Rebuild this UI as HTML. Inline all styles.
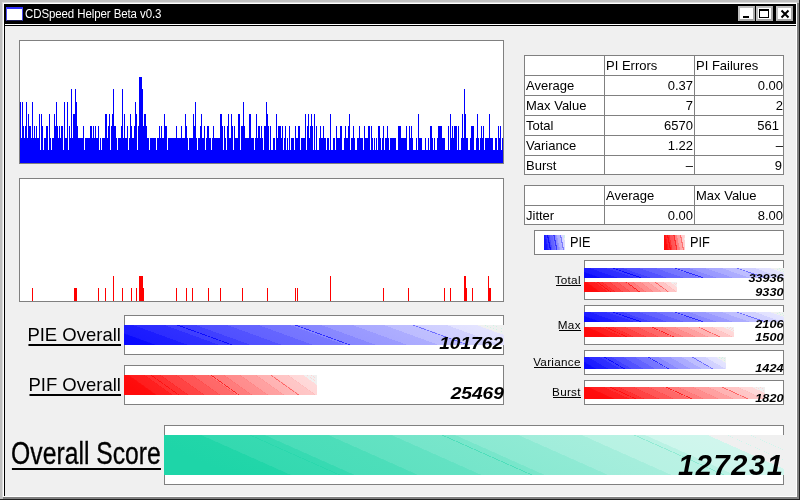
<!DOCTYPE html>
<html><head><meta charset="utf-8"><title>CDSpeed Helper Beta v0.3</title>
<style>
html,body{margin:0;padding:0;}
body{width:800px;height:500px;overflow:hidden;background:#c0c0c0;position:relative;font-family:"Liberation Sans",sans-serif;color:#000;}
.abs{position:absolute;}
#win{will-change:transform;position:absolute;left:0;top:0;width:800px;height:500px;overflow:hidden;}
.box{position:absolute;background:#fff;border:1px solid #808080;box-sizing:border-box;}
.lbl{position:absolute;text-decoration:none;white-space:nowrap;text-align:right;}
.num{position:absolute;font-weight:bold;font-style:italic;white-space:nowrap;text-align:right;transform-origin:100% 100%;}
table{position:absolute;border-collapse:collapse;table-layout:fixed;font-size:13px;}
td{border:1px solid #808080;height:19px;padding:0 1px 0 1px;line-height:19px;white-space:nowrap;overflow:visible;background:#fff;}
td.r{text-align:right;}
tr.last td{height:17px;line-height:17px;padding-top:1px;}
</style></head><body>
<div id="win">
<!-- frame -->
<div class="abs" style="left:0;top:0;width:800px;height:500px;background:#c0c0c0"></div>
<div class="abs" style="left:0;top:499px;width:800px;height:1px;background:#202020"></div>
<div class="abs" style="left:799px;top:0;width:1px;height:500px;background:#202020"></div>
<div class="abs" style="left:3px;top:497px;width:796px;height:2px;background:#808080"></div>
<div class="abs" style="left:797px;top:3px;width:2px;height:496px;background:#808080"></div>
<div class="abs" style="left:2px;top:2px;width:795px;height:495px;background:#dcdcdc"></div>
<div class="abs" style="left:3px;top:3px;width:794px;height:494px;background:#fff"></div>
<div class="abs" style="left:4px;top:4px;width:792px;height:492px;background:#f0f0f0"></div>
<!-- title bar -->
<div class="abs" style="left:4px;top:4px;width:792px;height:20px;background:#000"></div>
<div class="abs" style="left:4px;top:24px;width:792px;height:1px;background:#fff"></div>
<div class="abs" style="left:4px;top:25px;width:792px;height:1px;background:#000"></div>
<div class="abs" style="left:4px;top:4px;width:1px;height:492px;background:#000"></div>
<!-- icon -->
<div class="abs" style="left:6px;top:7px;width:17px;height:14px;background:#fff;box-sizing:border-box;border:1px solid #4a4af0;border-top:2px solid #3030ff;border-bottom:1px solid #20205a"></div>
<div id="title" class="abs" style="left:25px;top:6px;font-size:11.5px;line-height:16px;color:#fff;white-space:nowrap;letter-spacing:-0.1px;transform:scale(1,1.12);transform-origin:0 12px;">CDSpeed Helper Beta v0.3</div>
<!-- buttons -->
<div class="abs" style="left:738px;top:6px;width:17px;height:15px;background:#fff;box-sizing:border-box;border:2px solid #c0c0c0;border-right-color:#a8a8a8;border-bottom-color:#a8a8a8"></div>
<div class="abs" style="left:743px;top:16px;width:6px;height:2px;background:#000"></div>
<div class="abs" style="left:756px;top:6px;width:17px;height:15px;background:#fff;box-sizing:border-box;border:2px solid #c0c0c0;border-right-color:#a8a8a8;border-bottom-color:#a8a8a8"></div>
<div class="abs" style="left:759px;top:9px;width:10px;height:9px;box-sizing:border-box;border:1px solid #000;border-top:2px solid #000;background:#fff"></div>
<div class="abs" style="left:776px;top:6px;width:17px;height:15px;background:#fff;box-sizing:border-box;border:2px solid #c0c0c0;border-right-color:#a8a8a8;border-bottom-color:#a8a8a8"></div>
<svg class="abs" style="left:776px;top:6px" width="17" height="15"><path d="M5.5 4.5L12.5 11.5M12.5 4.5L5.5 11.5" stroke="#000" stroke-width="2" fill="none"/></svg>

<!-- charts -->
<div class="box" style="left:19px;top:40px;width:485px;height:124px"></div>
<svg class="abs" style="left:19px;top:40px" width="485" height="124" shape-rendering="crispEdges"><path fill="#0000ff" d="M1 62h1v61h-1zM2 98h1v25h-1zM3 62h1v61h-1zM4 86h1v37h-1zM5 98h1v25h-1zM6 86h1v37h-1zM7 62h1v61h-1zM8 98h1v25h-1zM9 74h1v49h-1zM10 86h2v37h-2zM12 98h1v25h-1zM13 62h1v61h-1zM14 98h1v25h-1zM15 86h1v37h-1zM16 98h1v25h-1zM17 86h1v37h-1zM18 98h2v25h-2zM20 74h1v49h-1zM21 110h1v13h-1zM22 74h1v49h-1zM23 86h1v37h-1zM24 110h1v13h-1zM25 98h2v25h-2zM27 86h2v37h-2zM29 110h1v13h-1zM30 74h1v49h-1zM31 98h1v25h-1zM32 110h1v13h-1zM33 98h2v25h-2zM35 74h1v49h-1zM36 86h1v37h-1zM37 62h1v61h-1zM38 86h1v37h-1zM39 98h1v25h-1zM40 86h1v37h-1zM41 98h1v25h-1zM42 86h2v37h-2zM44 110h1v13h-1zM45 62h1v61h-1zM46 98h2v25h-2zM48 62h1v61h-1zM49 110h1v13h-1zM50 86h1v37h-1zM51 98h1v25h-1zM52 49h1v74h-1zM53 98h1v25h-1zM54 74h2v49h-2zM56 49h1v74h-1zM57 62h1v61h-1zM58 86h1v37h-1zM59 98h5v25h-5zM64 86h1v37h-1zM65 110h1v13h-1zM66 98h5v25h-5zM71 86h2v37h-2zM73 98h1v25h-1zM74 86h1v37h-1zM75 98h1v25h-1zM76 86h1v37h-1zM77 98h2v25h-2zM79 86h1v37h-1zM80 110h1v13h-1zM81 98h1v25h-1zM82 110h1v13h-1zM83 98h3v25h-3zM86 74h2v49h-2zM88 98h1v25h-1zM89 86h1v37h-1zM90 74h1v49h-1zM91 110h1v13h-1zM92 86h1v37h-1zM93 74h1v49h-1zM94 49h1v74h-1zM95 86h2v37h-2zM97 98h1v25h-1zM98 110h1v13h-1zM99 98h3v25h-3zM102 86h1v37h-1zM103 49h1v74h-1zM104 98h1v25h-1zM105 74h1v49h-1zM106 98h2v25h-2zM108 86h1v37h-1zM109 110h1v13h-1zM110 98h1v25h-1zM111 74h1v49h-1zM112 86h1v37h-1zM113 98h2v25h-2zM115 86h1v37h-1zM116 62h1v61h-1zM117 74h1v49h-1zM118 110h1v13h-1zM119 86h1v37h-1zM120 37h3v86h-3zM123 49h1v74h-1zM124 86h1v37h-1zM125 74h2v49h-2zM127 86h1v37h-1zM128 98h2v25h-2zM130 110h1v13h-1zM131 98h6v25h-6zM137 110h1v13h-1zM138 98h2v25h-2zM140 86h1v37h-1zM141 98h1v25h-1zM142 86h1v37h-1zM143 98h2v25h-2zM145 74h1v49h-1zM146 86h2v37h-2zM148 110h1v13h-1zM149 98h8v25h-8zM157 86h1v37h-1zM158 98h4v25h-4zM162 86h1v37h-1zM163 98h3v25h-3zM166 74h1v49h-1zM167 86h1v37h-1zM168 98h1v25h-1zM169 110h1v13h-1zM170 98h4v25h-4zM174 74h1v49h-1zM175 86h1v37h-1zM176 62h1v61h-1zM177 98h1v25h-1zM178 110h1v13h-1zM179 98h2v25h-2zM181 86h1v37h-1zM182 74h1v49h-1zM183 98h2v25h-2zM185 86h1v37h-1zM186 110h1v13h-1zM187 98h1v25h-1zM188 86h2v37h-2zM190 98h2v25h-2zM192 110h1v13h-1zM193 98h1v25h-1zM194 86h1v37h-1zM195 98h6v25h-6zM201 74h2v49h-2zM203 86h1v37h-1zM204 110h1v13h-1zM205 86h1v37h-1zM206 98h1v25h-1zM207 110h1v13h-1zM208 86h1v37h-1zM209 74h1v49h-1zM210 98h2v25h-2zM212 74h1v49h-1zM213 86h1v37h-1zM214 110h1v13h-1zM215 86h1v37h-1zM216 98h3v25h-3zM219 74h2v49h-2zM221 110h1v13h-1zM222 86h2v37h-2zM224 62h1v61h-1zM225 86h1v37h-1zM226 98h4v25h-4zM230 74h2v49h-2zM232 98h3v25h-3zM235 110h1v13h-1zM236 98h1v25h-1zM237 74h1v49h-1zM238 98h1v25h-1zM239 86h2v37h-2zM241 98h1v25h-1zM242 86h1v37h-1zM243 98h1v25h-1zM244 110h1v13h-1zM245 86h2v37h-2zM247 62h1v61h-1zM248 74h1v49h-1zM249 86h1v37h-1zM250 110h1v13h-1zM251 86h1v37h-1zM252 110h2v13h-2zM254 98h2v25h-2zM256 110h1v13h-1zM257 74h1v49h-1zM258 98h1v25h-1zM259 86h3v37h-3zM262 98h1v25h-1zM263 86h1v37h-1zM264 110h1v13h-1zM265 98h1v25h-1zM266 86h1v37h-1zM267 110h1v13h-1zM268 98h1v25h-1zM269 110h1v13h-1zM270 86h1v37h-1zM271 110h1v13h-1zM272 98h3v25h-3zM275 110h1v13h-1zM276 86h1v37h-1zM277 98h2v25h-2zM279 86h2v37h-2zM281 110h1v13h-1zM282 98h4v25h-4zM286 74h1v49h-1zM287 110h1v13h-1zM288 86h1v37h-1zM289 74h1v49h-1zM290 98h1v25h-1zM291 86h1v37h-1zM292 74h1v49h-1zM293 86h1v37h-1zM294 110h1v13h-1zM295 74h1v49h-1zM296 110h1v13h-1zM297 86h1v37h-1zM298 110h2v13h-2zM300 98h1v25h-1zM301 86h1v37h-1zM302 98h2v25h-2zM304 86h1v37h-1zM305 98h2v25h-2zM307 110h1v13h-1zM308 98h2v25h-2zM310 110h1v13h-1zM311 74h1v49h-1zM312 110h2v13h-2zM314 98h2v25h-2zM316 110h1v13h-1zM317 86h1v37h-1zM318 98h3v25h-3zM321 86h2v37h-2zM323 110h2v13h-2zM325 98h1v25h-1zM326 86h1v37h-1zM327 98h2v25h-2zM329 86h1v37h-1zM330 74h1v49h-1zM331 110h1v13h-1zM332 98h2v25h-2zM334 86h1v37h-1zM335 98h1v25h-1zM336 110h2v13h-2zM338 98h2v25h-2zM340 86h1v37h-1zM341 98h3v25h-3zM344 110h1v13h-1zM345 86h1v37h-1zM346 98h3v25h-3zM349 86h2v37h-2zM351 110h1v13h-1zM352 86h1v37h-1zM353 98h1v25h-1zM354 110h1v13h-1zM355 98h1v25h-1zM356 110h1v13h-1zM357 98h1v25h-1zM358 110h1v13h-1zM359 86h2v37h-2zM361 98h1v25h-1zM362 110h1v13h-1zM363 98h1v25h-1zM364 86h1v37h-1zM365 110h1v13h-1zM366 98h2v25h-2zM368 86h1v37h-1zM369 98h1v25h-1zM370 110h1v13h-1zM371 98h6v25h-6zM377 110h2v13h-2zM379 86h3v37h-3zM382 98h5v25h-5zM387 86h1v37h-1zM388 110h2v13h-2zM390 86h1v37h-1zM391 98h1v25h-1zM392 86h1v37h-1zM393 98h1v25h-1zM394 110h3v13h-3zM397 98h1v25h-1zM398 110h1v13h-1zM399 74h1v49h-1zM400 98h3v25h-3zM403 110h3v13h-3zM406 98h1v25h-1zM407 110h2v13h-2zM409 98h1v25h-1zM410 110h1v13h-1zM411 86h2v37h-2zM413 98h1v25h-1zM414 110h1v13h-1zM415 98h1v25h-1zM416 110h2v13h-2zM418 98h1v25h-1zM419 86h4v37h-4zM423 98h3v25h-3zM426 110h3v13h-3zM429 86h1v37h-1zM430 110h1v13h-1zM431 74h1v49h-1zM432 98h1v25h-1zM433 86h1v37h-1zM434 98h1v25h-1zM435 86h3v37h-3zM438 110h1v13h-1zM439 86h1v37h-1zM440 110h2v13h-2zM442 98h1v25h-1zM443 74h1v49h-1zM444 98h1v25h-1zM445 49h1v74h-1zM446 74h1v49h-1zM447 98h2v25h-2zM449 110h2v13h-2zM451 98h1v25h-1zM452 86h3v37h-3zM455 110h2v13h-2zM457 98h1v25h-1zM458 74h1v49h-1zM459 98h1v25h-1zM460 110h1v13h-1zM461 98h1v25h-1zM462 86h1v37h-1zM463 98h1v25h-1zM464 86h1v37h-1zM465 110h1v13h-1zM466 98h4v25h-4zM470 74h1v49h-1zM471 98h3v25h-3zM474 110h2v13h-2zM476 98h2v25h-2zM478 110h1v13h-1zM479 86h1v37h-1zM480 98h1v25h-1zM481 86h1v37h-1zM482 110h1v13h-1zM483 98h1v25h-1z"/></svg>
<div class="box" style="left:19px;top:178px;width:485px;height:124px"></div>
<svg class="abs" style="left:19px;top:178px" width="485" height="124" shape-rendering="crispEdges"><path fill="#ff0000" d="M13 110h1v13h-1zM55 110h3v13h-3zM79 110h1v13h-1zM86 110h1v13h-1zM94 98h1v25h-1zM103 110h1v13h-1zM112 110h1v13h-1zM117 110h1v13h-1zM120 98h4v25h-4zM124 110h1v13h-1zM157 110h1v13h-1zM167 110h1v13h-1zM173 110h1v13h-1zM189 110h1v13h-1zM201 110h1v13h-1zM223 110h1v13h-1zM248 110h1v13h-1zM276 110h1v13h-1zM278 110h1v13h-1zM311 98h1v25h-1zM364 110h1v13h-1zM389 110h1v13h-1zM425 110h1v13h-1zM431 110h1v13h-1zM445 98h2v25h-2zM447 110h1v13h-1zM453 110h1v13h-1zM469 98h1v25h-1zM470 110h2v13h-2z"/></svg>

<!-- tables -->
<table style="left:524px;top:55px;width:260px">
<colgroup><col style="width:80px"><col style="width:90px"><col style="width:89px"></colgroup>
<tr><td></td><td>PI Errors</td><td>PI Failures</td></tr>
<tr><td>Average</td><td class="r">0.37</td><td class="r" style="padding-right:0">0.00</td></tr>
<tr><td>Max Value</td><td class="r">7</td><td class="r" style="padding-right:0">2</td></tr>
<tr><td>Total</td><td class="r">6570</td><td class="r" style="padding-right:4px">561</td></tr>
<tr><td>Variance</td><td class="r">1.22</td><td class="r" style="padding-right:0">&#8211;</td></tr>
<tr class="last"><td>Burst</td><td class="r">&#8211;</td><td class="r" style="padding-right:1px">9</td></tr>
</table>
<table style="left:524px;top:185px;width:260px">
<colgroup><col style="width:80px"><col style="width:90px"><col style="width:89px"></colgroup>
<tr><td></td><td>Average</td><td>Max Value</td></tr>
<tr class="last"><td>Jitter</td><td class="r">0.00</td><td class="r" style="padding-right:0">8.00</td></tr>
</table>

<!-- legend -->
<div class="box" style="left:534px;top:230px;width:250px;height:25px"></div>
<svg class="abs" style="left:544px;top:235px" width="21" height="15"><defs><linearGradient id="g10" gradientUnits="userSpaceOnUse" x1="0.00" y1="15.00" x2="23.09" y2="10.31"><stop offset="0.0000" stop-color="rgb(16,16,255)"/><stop offset="0.1561" stop-color="rgb(23,23,255)"/><stop offset="0.1561" stop-color="rgb(36,36,255)"/><stop offset="0.1977" stop-color="rgb(36,36,255)"/><stop offset="0.1977" stop-color="rgb(56,56,255)"/><stop offset="0.3122" stop-color="rgb(62,62,255)"/><stop offset="0.3122" stop-color="rgb(75,75,255)"/><stop offset="0.3538" stop-color="rgb(75,75,255)"/><stop offset="0.3538" stop-color="rgb(95,95,255)"/><stop offset="0.4683" stop-color="rgb(101,101,255)"/><stop offset="0.4683" stop-color="rgb(114,114,255)"/><stop offset="0.5099" stop-color="rgb(114,114,255)"/><stop offset="0.5099" stop-color="rgb(134,134,255)"/><stop offset="0.6245" stop-color="rgb(140,140,255)"/><stop offset="0.6245" stop-color="rgb(153,153,255)"/><stop offset="0.6660" stop-color="rgb(153,153,255)"/><stop offset="0.6660" stop-color="rgb(173,173,255)"/><stop offset="0.7806" stop-color="rgb(180,180,255)"/><stop offset="0.7806" stop-color="rgb(192,192,255)"/><stop offset="0.8222" stop-color="rgb(192,192,255)"/><stop offset="0.8222" stop-color="rgb(212,212,255)"/><stop offset="0.9367" stop-color="rgb(219,219,255)"/><stop offset="0.9367" stop-color="rgb(240,240,240)"/><stop offset="0.9525" stop-color="rgb(240,240,240)"/><stop offset="0.9525" stop-color="rgb(205,244,228)"/><stop offset="0.9858" stop-color="rgb(205,244,228)"/><stop offset="0.9858" stop-color="rgb(240,240,240)"/><stop offset="0.9715" stop-color="rgb(240,240,240)"/><stop offset="0.9715" stop-color="rgb(205,244,228)"/><stop offset="1.0000" stop-color="rgb(205,244,228)"/><stop offset="1.0000" stop-color="rgb(240,240,240)"/><stop offset="1.0000" stop-color="rgb(240,240,240)"/></linearGradient></defs><rect width="21" height="15" fill="url(#g10)"/><polygon shape-rendering="crispEdges" points="2.9,0 4.1,0 7.1,15 5.9,15" fill="rgb(0,0,255)" fill-opacity="0.70"/><polygon shape-rendering="crispEdges" points="9.4,0 10.6,0 13.6,15 12.4,15" fill="rgb(23,23,255)" fill-opacity="0.70"/><polygon shape-rendering="crispEdges" points="15.9,0 17.1,0 20.1,15 18.9,15" fill="rgb(91,91,255)" fill-opacity="0.70"/></svg><svg class="abs" style="left:664px;top:235px" width="21" height="15"><defs><linearGradient id="g11" gradientUnits="userSpaceOnUse" x1="0.00" y1="15.00" x2="23.09" y2="10.31"><stop offset="0.0000" stop-color="rgb(255,10,10)"/><stop offset="0.1561" stop-color="rgb(255,10,10)"/><stop offset="0.1561" stop-color="rgb(255,24,24)"/><stop offset="0.1977" stop-color="rgb(255,24,24)"/><stop offset="0.1977" stop-color="rgb(255,41,41)"/><stop offset="0.3122" stop-color="rgb(255,48,48)"/><stop offset="0.3122" stop-color="rgb(255,50,50)"/><stop offset="0.3538" stop-color="rgb(255,50,50)"/><stop offset="0.3538" stop-color="rgb(255,81,81)"/><stop offset="0.4683" stop-color="rgb(255,88,88)"/><stop offset="0.4683" stop-color="rgb(255,91,91)"/><stop offset="0.5099" stop-color="rgb(255,91,91)"/><stop offset="0.5099" stop-color="rgb(255,122,122)"/><stop offset="0.6245" stop-color="rgb(255,128,128)"/><stop offset="0.6245" stop-color="rgb(255,131,131)"/><stop offset="0.6660" stop-color="rgb(255,131,131)"/><stop offset="0.6660" stop-color="rgb(255,162,162)"/><stop offset="0.7806" stop-color="rgb(255,168,168)"/><stop offset="0.7806" stop-color="rgb(255,171,171)"/><stop offset="0.8222" stop-color="rgb(255,171,171)"/><stop offset="0.8222" stop-color="rgb(255,202,202)"/><stop offset="0.9367" stop-color="rgb(255,209,209)"/><stop offset="0.9367" stop-color="rgb(240,240,240)"/><stop offset="0.9525" stop-color="rgb(240,240,240)"/><stop offset="0.9525" stop-color="rgb(255,213,213)"/><stop offset="0.9858" stop-color="rgb(255,213,213)"/><stop offset="0.9858" stop-color="rgb(240,240,240)"/><stop offset="0.9715" stop-color="rgb(240,240,240)"/><stop offset="0.9715" stop-color="rgb(255,213,213)"/><stop offset="1.0000" stop-color="rgb(255,213,213)"/><stop offset="1.0000" stop-color="rgb(240,240,240)"/><stop offset="1.0000" stop-color="rgb(240,240,240)"/></linearGradient></defs><rect width="21" height="15" fill="url(#g11)"/><polygon shape-rendering="crispEdges" points="2.9,0 4.1,0 7.1,15 5.9,15" fill="rgb(255,10,10)" fill-opacity="0.70"/><polygon shape-rendering="crispEdges" points="9.4,0 10.6,0 13.6,15 12.4,15" fill="rgb(255,14,14)" fill-opacity="0.70"/><polygon shape-rendering="crispEdges" points="15.9,0 17.1,0 20.1,15 18.9,15" fill="rgb(255,84,84)" fill-opacity="0.70"/></svg>
<div class="abs" style="left:569.5px;top:233.5px;font-size:14.7px;line-height:16px;transform:scaleX(0.87);transform-origin:0 0">PIE</div>
<div class="abs" style="left:689.5px;top:233.5px;font-size:14.7px;line-height:16px;transform:scaleX(0.87);transform-origin:0 0">PIF</div>

<div class="box" style="left:124px;top:315px;width:380px;height:40px"></div>
<svg class="abs" style="left:124px;top:325px" width="380" height="20"><defs><linearGradient id="g1" gradientUnits="userSpaceOnUse" x1="0.00" y1="20.00" x2="50.65" y2="-119.55"><stop offset="0.0000" stop-color="rgb(8,8,255)"/><stop offset="0.0721" stop-color="rgb(10,10,255)"/><stop offset="0.0721" stop-color="rgb(17,17,255)"/><stop offset="0.0749" stop-color="rgb(17,17,255)"/><stop offset="0.0749" stop-color="rgb(26,26,255)"/><stop offset="0.1441" stop-color="rgb(29,29,255)"/><stop offset="0.1441" stop-color="rgb(29,29,255)"/><stop offset="0.1470" stop-color="rgb(29,29,255)"/><stop offset="0.1470" stop-color="rgb(44,44,255)"/><stop offset="0.2162" stop-color="rgb(47,47,255)"/><stop offset="0.2162" stop-color="rgb(45,45,255)"/><stop offset="0.2190" stop-color="rgb(45,45,255)"/><stop offset="0.2190" stop-color="rgb(62,62,255)"/><stop offset="0.2882" stop-color="rgb(65,65,255)"/><stop offset="0.2882" stop-color="rgb(63,63,255)"/><stop offset="0.2911" stop-color="rgb(63,63,255)"/><stop offset="0.2911" stop-color="rgb(80,80,255)"/><stop offset="0.3603" stop-color="rgb(83,83,255)"/><stop offset="0.3603" stop-color="rgb(81,81,255)"/><stop offset="0.3631" stop-color="rgb(81,81,255)"/><stop offset="0.3631" stop-color="rgb(98,98,255)"/><stop offset="0.4323" stop-color="rgb(101,101,255)"/><stop offset="0.4323" stop-color="rgb(99,99,255)"/><stop offset="0.4352" stop-color="rgb(99,99,255)"/><stop offset="0.4352" stop-color="rgb(116,116,255)"/><stop offset="0.5044" stop-color="rgb(119,119,255)"/><stop offset="0.5044" stop-color="rgb(117,117,255)"/><stop offset="0.5072" stop-color="rgb(117,117,255)"/><stop offset="0.5072" stop-color="rgb(134,134,255)"/><stop offset="0.5764" stop-color="rgb(137,137,255)"/><stop offset="0.5764" stop-color="rgb(135,135,255)"/><stop offset="0.5793" stop-color="rgb(135,135,255)"/><stop offset="0.5793" stop-color="rgb(152,152,255)"/><stop offset="0.6485" stop-color="rgb(155,155,255)"/><stop offset="0.6485" stop-color="rgb(153,153,255)"/><stop offset="0.6513" stop-color="rgb(153,153,255)"/><stop offset="0.6513" stop-color="rgb(170,170,255)"/><stop offset="0.7205" stop-color="rgb(173,173,255)"/><stop offset="0.7205" stop-color="rgb(172,172,255)"/><stop offset="0.7234" stop-color="rgb(172,172,255)"/><stop offset="0.7234" stop-color="rgb(189,189,255)"/><stop offset="0.7926" stop-color="rgb(191,191,255)"/><stop offset="0.7926" stop-color="rgb(190,190,255)"/><stop offset="0.7954" stop-color="rgb(190,190,255)"/><stop offset="0.7954" stop-color="rgb(207,207,255)"/><stop offset="0.8646" stop-color="rgb(210,210,255)"/><stop offset="0.8646" stop-color="rgb(208,208,255)"/><stop offset="0.8675" stop-color="rgb(208,208,255)"/><stop offset="0.8675" stop-color="rgb(225,225,255)"/><stop offset="0.9367" stop-color="rgb(228,228,255)"/><stop offset="0.9367" stop-color="rgb(240,240,240)"/><stop offset="0.9525" stop-color="rgb(240,240,240)"/><stop offset="0.9525" stop-color="rgb(205,244,228)"/><stop offset="0.9543" stop-color="rgb(205,244,228)"/><stop offset="0.9543" stop-color="rgb(240,240,240)"/><stop offset="0.9715" stop-color="rgb(240,240,240)"/><stop offset="0.9715" stop-color="rgb(205,244,228)"/><stop offset="0.9733" stop-color="rgb(205,244,228)"/><stop offset="0.9733" stop-color="rgb(240,240,240)"/><stop offset="1.0000" stop-color="rgb(240,240,240)"/></linearGradient></defs><rect width="380" height="20" fill="url(#g1)"/><polygon shape-rendering="crispEdges" points="52.1,0 54.4,0 109.5,20 107.2,20" fill="rgb(0,0,255)" fill-opacity="0.80"/><polygon shape-rendering="crispEdges" points="169.9,0 172.2,0 227.3,20 225.0,20" fill="rgb(23,23,255)" fill-opacity="0.80"/><polygon shape-rendering="crispEdges" points="287.7,0 290.0,0 345.1,20 342.8,20" fill="rgb(91,91,255)" fill-opacity="0.80"/></svg>
<div class="num" style="right:296.5px;top:335.03px;font-size:16.5px;line-height:16.5px;letter-spacing:0.00px;transform:scaleX(1.160)">101762</div>
<div class="lbl" style="right:678.7px;top:326.67px;font-size:17.8px;line-height:17.8px;letter-spacing:0.00px;-webkit-text-stroke:0px #000;transform-origin:100% 50%;transform:scaleX(1.040)"><span style="display:inline-block;position:relative">PIE Overall<span style="position:absolute;left:0.08em;right:0.00px;top:17.23px;height:2px;background:#000"></span></span></div>
<div class="box" style="left:124px;top:365px;width:380px;height:40px"></div>
<svg class="abs" style="left:124px;top:375px" width="193" height="20"><defs><linearGradient id="g2" gradientUnits="userSpaceOnUse" x1="0.00" y1="20.00" x2="74.71" y2="-84.54"><stop offset="0.0000" stop-color="rgb(255,10,10)"/><stop offset="0.0721" stop-color="rgb(255,10,10)"/><stop offset="0.0721" stop-color="rgb(255,10,10)"/><stop offset="0.0766" stop-color="rgb(255,10,10)"/><stop offset="0.0766" stop-color="rgb(255,10,10)"/><stop offset="0.1441" stop-color="rgb(255,13,13)"/><stop offset="0.1441" stop-color="rgb(255,19,19)"/><stop offset="0.1486" stop-color="rgb(255,19,19)"/><stop offset="0.1486" stop-color="rgb(255,29,29)"/><stop offset="0.2162" stop-color="rgb(255,32,32)"/><stop offset="0.2162" stop-color="rgb(255,27,27)"/><stop offset="0.2207" stop-color="rgb(255,27,27)"/><stop offset="0.2207" stop-color="rgb(255,47,47)"/><stop offset="0.2882" stop-color="rgb(255,50,50)"/><stop offset="0.2882" stop-color="rgb(255,40,40)"/><stop offset="0.2927" stop-color="rgb(255,40,40)"/><stop offset="0.2927" stop-color="rgb(255,66,66)"/><stop offset="0.3603" stop-color="rgb(255,69,69)"/><stop offset="0.3603" stop-color="rgb(255,59,59)"/><stop offset="0.3648" stop-color="rgb(255,59,59)"/><stop offset="0.3648" stop-color="rgb(255,85,85)"/><stop offset="0.4323" stop-color="rgb(255,88,88)"/><stop offset="0.4323" stop-color="rgb(255,77,77)"/><stop offset="0.4368" stop-color="rgb(255,77,77)"/><stop offset="0.4368" stop-color="rgb(255,103,103)"/><stop offset="0.5044" stop-color="rgb(255,106,106)"/><stop offset="0.5044" stop-color="rgb(255,96,96)"/><stop offset="0.5089" stop-color="rgb(255,96,96)"/><stop offset="0.5089" stop-color="rgb(255,122,122)"/><stop offset="0.5764" stop-color="rgb(255,125,125)"/><stop offset="0.5764" stop-color="rgb(255,114,114)"/><stop offset="0.5809" stop-color="rgb(255,114,114)"/><stop offset="0.5809" stop-color="rgb(255,140,140)"/><stop offset="0.6485" stop-color="rgb(255,143,143)"/><stop offset="0.6485" stop-color="rgb(255,133,133)"/><stop offset="0.6530" stop-color="rgb(255,133,133)"/><stop offset="0.6530" stop-color="rgb(255,159,159)"/><stop offset="0.7205" stop-color="rgb(255,162,162)"/><stop offset="0.7205" stop-color="rgb(255,152,152)"/><stop offset="0.7250" stop-color="rgb(255,152,152)"/><stop offset="0.7250" stop-color="rgb(255,178,178)"/><stop offset="0.7926" stop-color="rgb(255,181,181)"/><stop offset="0.7926" stop-color="rgb(255,170,170)"/><stop offset="0.7971" stop-color="rgb(255,170,170)"/><stop offset="0.7971" stop-color="rgb(255,196,196)"/><stop offset="0.8646" stop-color="rgb(255,199,199)"/><stop offset="0.8646" stop-color="rgb(255,189,189)"/><stop offset="0.8692" stop-color="rgb(255,189,189)"/><stop offset="0.8692" stop-color="rgb(255,215,215)"/><stop offset="0.9367" stop-color="rgb(255,218,218)"/><stop offset="0.9367" stop-color="rgb(240,240,240)"/><stop offset="0.9525" stop-color="rgb(240,240,240)"/><stop offset="0.9525" stop-color="rgb(255,213,213)"/><stop offset="0.9561" stop-color="rgb(255,213,213)"/><stop offset="0.9561" stop-color="rgb(240,240,240)"/><stop offset="0.9715" stop-color="rgb(240,240,240)"/><stop offset="0.9715" stop-color="rgb(255,213,213)"/><stop offset="0.9751" stop-color="rgb(255,213,213)"/><stop offset="0.9751" stop-color="rgb(240,240,240)"/><stop offset="1.0000" stop-color="rgb(240,240,240)"/></linearGradient></defs><rect width="193" height="20" fill="url(#g2)"/><polygon shape-rendering="crispEdges" points="26.4,0 27.6,0 55.6,20 54.4,20" fill="rgb(255,10,10)" fill-opacity="0.80"/><polygon shape-rendering="crispEdges" points="86.3,0 87.5,0 115.5,20 114.3,20" fill="rgb(255,14,14)" fill-opacity="0.80"/><polygon shape-rendering="crispEdges" points="146.1,0 147.3,0 175.3,20 174.1,20" fill="rgb(255,84,84)" fill-opacity="0.80"/></svg>
<div class="num" style="right:296.5px;top:385.03px;font-size:16.5px;line-height:16.5px;letter-spacing:0.00px;transform:scaleX(1.160)">25469</div>
<div class="lbl" style="right:678.7px;top:376.67px;font-size:17.8px;line-height:17.8px;letter-spacing:0.00px;-webkit-text-stroke:0px #000;transform-origin:100% 50%;transform:scaleX(1.040)"><span style="display:inline-block;position:relative">PIF Overall<span style="position:absolute;left:0.08em;right:0.00px;top:17.23px;height:2px;background:#000"></span></span></div>
<div class="box" style="left:164px;top:425px;width:620px;height:60px"></div>
<svg class="abs" style="left:164px;top:435px" width="620" height="40"><defs><linearGradient id="g3" gradientUnits="userSpaceOnUse" x1="0.00" y1="40.00" x2="117.31" y2="-223.66"><stop offset="0.0000" stop-color="rgb(30,213,168)"/><stop offset="0.0892" stop-color="rgb(30,213,168)"/><stop offset="0.0892" stop-color="rgb(30,213,168)"/><stop offset="0.0907" stop-color="rgb(30,213,168)"/><stop offset="0.0907" stop-color="rgb(30,213,168)"/><stop offset="0.1785" stop-color="rgb(34,214,169)"/><stop offset="0.1785" stop-color="rgb(46,216,174)"/><stop offset="0.1799" stop-color="rgb(46,216,174)"/><stop offset="0.1799" stop-color="rgb(52,217,176)"/><stop offset="0.2677" stop-color="rgb(55,218,178)"/><stop offset="0.2677" stop-color="rgb(62,219,180)"/><stop offset="0.2691" stop-color="rgb(62,219,180)"/><stop offset="0.2691" stop-color="rgb(74,221,185)"/><stop offset="0.3569" stop-color="rgb(77,222,186)"/><stop offset="0.3569" stop-color="rgb(83,223,188)"/><stop offset="0.3584" stop-color="rgb(83,223,188)"/><stop offset="0.3584" stop-color="rgb(96,225,193)"/><stop offset="0.4462" stop-color="rgb(99,226,195)"/><stop offset="0.4462" stop-color="rgb(104,227,197)"/><stop offset="0.4476" stop-color="rgb(104,227,197)"/><stop offset="0.4476" stop-color="rgb(117,229,202)"/><stop offset="0.5354" stop-color="rgb(121,230,203)"/><stop offset="0.5354" stop-color="rgb(126,231,205)"/><stop offset="0.5368" stop-color="rgb(126,231,205)"/><stop offset="0.5368" stop-color="rgb(139,233,210)"/><stop offset="0.6247" stop-color="rgb(143,234,212)"/><stop offset="0.6247" stop-color="rgb(148,235,214)"/><stop offset="0.6261" stop-color="rgb(148,235,214)"/><stop offset="0.6261" stop-color="rgb(161,237,219)"/><stop offset="0.7139" stop-color="rgb(165,238,220)"/><stop offset="0.7139" stop-color="rgb(170,239,222)"/><stop offset="0.7153" stop-color="rgb(170,239,222)"/><stop offset="0.7153" stop-color="rgb(183,242,227)"/><stop offset="0.8031" stop-color="rgb(186,242,228)"/><stop offset="0.8031" stop-color="rgb(192,243,231)"/><stop offset="0.8045" stop-color="rgb(192,243,231)"/><stop offset="0.8045" stop-color="rgb(205,246,236)"/><stop offset="0.8924" stop-color="rgb(208,246,237)"/><stop offset="0.8924" stop-color="rgb(240,240,240)"/><stop offset="0.9193" stop-color="rgb(240,240,240)"/><stop offset="0.9193" stop-color="rgb(206,246,236)"/><stop offset="0.9204" stop-color="rgb(206,246,236)"/><stop offset="0.9204" stop-color="rgb(240,240,240)"/><stop offset="0.9516" stop-color="rgb(240,240,240)"/><stop offset="0.9516" stop-color="rgb(206,246,236)"/><stop offset="0.9527" stop-color="rgb(206,246,236)"/><stop offset="0.9527" stop-color="rgb(240,240,240)"/><stop offset="1.0000" stop-color="rgb(240,240,240)"/></linearGradient></defs><rect width="620" height="40" fill="url(#g3)"/><polygon shape-rendering="crispEdges" points="84.9,0 86.9,0 176.8,40 174.8,40" fill="rgb(30,213,168)" fill-opacity="0.45"/><polygon shape-rendering="crispEdges" points="277.1,0 279.1,0 369.0,40 367.0,40" fill="rgb(31,213,168)" fill-opacity="0.45"/><polygon shape-rendering="crispEdges" points="469.3,0 471.3,0 561.2,40 559.2,40" fill="rgb(97,226,194)" fill-opacity="0.45"/></svg>
<div class="num" style="right:15.6px;top:451.45px;font-size:29.0px;line-height:29.0px;letter-spacing:1.60px;transform:scaleX(1.000)">127231</div>
<div class="lbl" style="right:639.7px;top:438.36px;font-size:31.0px;line-height:31.0px;letter-spacing:0.00px;-webkit-text-stroke:0.35px #000;transform-origin:100% 50%;transform:scaleX(0.797)"><span style="display:inline-block;position:relative">Overall Score<span style="position:absolute;left:0.03em;right:0.00px;top:29.74px;height:2px;background:#000"></span></span></div>
<div class="box" style="left:584px;top:260px;width:200px;height:40px"></div>
<svg class="abs" style="left:584px;top:268px" width="200" height="10"><defs><linearGradient id="g4" gradientUnits="userSpaceOnUse" x1="0.00" y1="10.00" x2="24.34" y2="-60.57"><stop offset="0.0000" stop-color="rgb(8,8,255)"/><stop offset="0.0721" stop-color="rgb(10,10,255)"/><stop offset="0.0721" stop-color="rgb(17,17,255)"/><stop offset="0.0778" stop-color="rgb(17,17,255)"/><stop offset="0.0778" stop-color="rgb(26,26,255)"/><stop offset="0.1441" stop-color="rgb(29,29,255)"/><stop offset="0.1441" stop-color="rgb(29,29,255)"/><stop offset="0.1498" stop-color="rgb(29,29,255)"/><stop offset="0.1498" stop-color="rgb(44,44,255)"/><stop offset="0.2162" stop-color="rgb(47,47,255)"/><stop offset="0.2162" stop-color="rgb(45,45,255)"/><stop offset="0.2219" stop-color="rgb(45,45,255)"/><stop offset="0.2219" stop-color="rgb(62,62,255)"/><stop offset="0.2882" stop-color="rgb(65,65,255)"/><stop offset="0.2882" stop-color="rgb(63,63,255)"/><stop offset="0.2939" stop-color="rgb(63,63,255)"/><stop offset="0.2939" stop-color="rgb(80,80,255)"/><stop offset="0.3603" stop-color="rgb(83,83,255)"/><stop offset="0.3603" stop-color="rgb(81,81,255)"/><stop offset="0.3660" stop-color="rgb(81,81,255)"/><stop offset="0.3660" stop-color="rgb(98,98,255)"/><stop offset="0.4323" stop-color="rgb(101,101,255)"/><stop offset="0.4323" stop-color="rgb(99,99,255)"/><stop offset="0.4380" stop-color="rgb(99,99,255)"/><stop offset="0.4380" stop-color="rgb(116,116,255)"/><stop offset="0.5044" stop-color="rgb(119,119,255)"/><stop offset="0.5044" stop-color="rgb(117,117,255)"/><stop offset="0.5101" stop-color="rgb(117,117,255)"/><stop offset="0.5101" stop-color="rgb(134,134,255)"/><stop offset="0.5764" stop-color="rgb(137,137,255)"/><stop offset="0.5764" stop-color="rgb(135,135,255)"/><stop offset="0.5821" stop-color="rgb(135,135,255)"/><stop offset="0.5821" stop-color="rgb(152,152,255)"/><stop offset="0.6485" stop-color="rgb(155,155,255)"/><stop offset="0.6485" stop-color="rgb(153,153,255)"/><stop offset="0.6542" stop-color="rgb(153,153,255)"/><stop offset="0.6542" stop-color="rgb(170,170,255)"/><stop offset="0.7205" stop-color="rgb(173,173,255)"/><stop offset="0.7205" stop-color="rgb(172,172,255)"/><stop offset="0.7262" stop-color="rgb(172,172,255)"/><stop offset="0.7262" stop-color="rgb(189,189,255)"/><stop offset="0.7926" stop-color="rgb(191,191,255)"/><stop offset="0.7926" stop-color="rgb(190,190,255)"/><stop offset="0.7983" stop-color="rgb(190,190,255)"/><stop offset="0.7983" stop-color="rgb(207,207,255)"/><stop offset="0.8646" stop-color="rgb(210,210,255)"/><stop offset="0.8646" stop-color="rgb(208,208,255)"/><stop offset="0.8703" stop-color="rgb(208,208,255)"/><stop offset="0.8703" stop-color="rgb(225,225,255)"/><stop offset="0.9367" stop-color="rgb(228,228,255)"/><stop offset="0.9367" stop-color="rgb(240,240,240)"/><stop offset="0.9525" stop-color="rgb(240,240,240)"/><stop offset="0.9525" stop-color="rgb(205,244,228)"/><stop offset="0.9560" stop-color="rgb(205,244,228)"/><stop offset="0.9560" stop-color="rgb(240,240,240)"/><stop offset="0.9715" stop-color="rgb(240,240,240)"/><stop offset="0.9715" stop-color="rgb(205,244,228)"/><stop offset="0.9750" stop-color="rgb(205,244,228)"/><stop offset="0.9750" stop-color="rgb(240,240,240)"/><stop offset="1.0000" stop-color="rgb(240,240,240)"/></linearGradient></defs><rect width="200" height="10" fill="url(#g4)"/><polygon shape-rendering="crispEdges" points="27.4,0 29.9,0 58.9,10 56.4,10" fill="rgb(0,0,255)" fill-opacity="0.80"/><polygon shape-rendering="crispEdges" points="89.4,0 91.9,0 120.9,10 118.4,10" fill="rgb(23,23,255)" fill-opacity="0.80"/><polygon shape-rendering="crispEdges" points="151.4,0 153.9,0 182.9,10 180.4,10" fill="rgb(91,91,255)" fill-opacity="0.80"/></svg>
<svg class="abs" style="left:584px;top:282px" width="93" height="10"><defs><linearGradient id="g5" gradientUnits="userSpaceOnUse" x1="0.00" y1="10.00" x2="37.78" y2="-40.95"><stop offset="0.0000" stop-color="rgb(255,10,10)"/><stop offset="0.0721" stop-color="rgb(255,10,10)"/><stop offset="0.0721" stop-color="rgb(255,10,10)"/><stop offset="0.0814" stop-color="rgb(255,10,10)"/><stop offset="0.0814" stop-color="rgb(255,10,10)"/><stop offset="0.1441" stop-color="rgb(255,13,13)"/><stop offset="0.1441" stop-color="rgb(255,19,19)"/><stop offset="0.1535" stop-color="rgb(255,19,19)"/><stop offset="0.1535" stop-color="rgb(255,29,29)"/><stop offset="0.2162" stop-color="rgb(255,32,32)"/><stop offset="0.2162" stop-color="rgb(255,27,27)"/><stop offset="0.2255" stop-color="rgb(255,27,27)"/><stop offset="0.2255" stop-color="rgb(255,47,47)"/><stop offset="0.2882" stop-color="rgb(255,50,50)"/><stop offset="0.2882" stop-color="rgb(255,40,40)"/><stop offset="0.2976" stop-color="rgb(255,40,40)"/><stop offset="0.2976" stop-color="rgb(255,66,66)"/><stop offset="0.3603" stop-color="rgb(255,69,69)"/><stop offset="0.3603" stop-color="rgb(255,59,59)"/><stop offset="0.3697" stop-color="rgb(255,59,59)"/><stop offset="0.3697" stop-color="rgb(255,85,85)"/><stop offset="0.4323" stop-color="rgb(255,88,88)"/><stop offset="0.4323" stop-color="rgb(255,77,77)"/><stop offset="0.4417" stop-color="rgb(255,77,77)"/><stop offset="0.4417" stop-color="rgb(255,103,103)"/><stop offset="0.5044" stop-color="rgb(255,106,106)"/><stop offset="0.5044" stop-color="rgb(255,96,96)"/><stop offset="0.5138" stop-color="rgb(255,96,96)"/><stop offset="0.5138" stop-color="rgb(255,122,122)"/><stop offset="0.5764" stop-color="rgb(255,125,125)"/><stop offset="0.5764" stop-color="rgb(255,114,114)"/><stop offset="0.5858" stop-color="rgb(255,114,114)"/><stop offset="0.5858" stop-color="rgb(255,140,140)"/><stop offset="0.6485" stop-color="rgb(255,143,143)"/><stop offset="0.6485" stop-color="rgb(255,133,133)"/><stop offset="0.6579" stop-color="rgb(255,133,133)"/><stop offset="0.6579" stop-color="rgb(255,159,159)"/><stop offset="0.7205" stop-color="rgb(255,162,162)"/><stop offset="0.7205" stop-color="rgb(255,152,152)"/><stop offset="0.7299" stop-color="rgb(255,152,152)"/><stop offset="0.7299" stop-color="rgb(255,178,178)"/><stop offset="0.7926" stop-color="rgb(255,181,181)"/><stop offset="0.7926" stop-color="rgb(255,170,170)"/><stop offset="0.8020" stop-color="rgb(255,170,170)"/><stop offset="0.8020" stop-color="rgb(255,196,196)"/><stop offset="0.8646" stop-color="rgb(255,199,199)"/><stop offset="0.8646" stop-color="rgb(255,189,189)"/><stop offset="0.8740" stop-color="rgb(255,189,189)"/><stop offset="0.8740" stop-color="rgb(255,215,215)"/><stop offset="0.9367" stop-color="rgb(255,218,218)"/><stop offset="0.9367" stop-color="rgb(240,240,240)"/><stop offset="0.9525" stop-color="rgb(240,240,240)"/><stop offset="0.9525" stop-color="rgb(255,213,213)"/><stop offset="0.9600" stop-color="rgb(255,213,213)"/><stop offset="0.9600" stop-color="rgb(240,240,240)"/><stop offset="0.9715" stop-color="rgb(240,240,240)"/><stop offset="0.9715" stop-color="rgb(255,213,213)"/><stop offset="0.9790" stop-color="rgb(255,213,213)"/><stop offset="0.9790" stop-color="rgb(240,240,240)"/><stop offset="1.0000" stop-color="rgb(240,240,240)"/></linearGradient></defs><rect width="93" height="10" fill="url(#g5)"/><polygon shape-rendering="crispEdges" points="12.7,0 13.9,0 27.4,10 26.2,10" fill="rgb(255,10,10)" fill-opacity="0.80"/><polygon shape-rendering="crispEdges" points="41.6,0 42.8,0 56.3,10 55.1,10" fill="rgb(255,14,14)" fill-opacity="0.80"/><polygon shape-rendering="crispEdges" points="70.4,0 71.6,0 85.1,10 83.9,10" fill="rgb(255,84,84)" fill-opacity="0.80"/></svg>
<div class="num" style="right:16.5px;top:272.69px;font-size:11.0px;line-height:11.0px;letter-spacing:0.00px;transform:scaleX(1.150)">33936</div>
<div class="num" style="right:16.5px;top:286.69px;font-size:11.0px;line-height:11.0px;letter-spacing:0.00px;transform:scaleX(1.150)">9330</div>
<div class="lbl" style="right:219.2px;top:274.30px;font-size:11.7px;line-height:11.7px;letter-spacing:0.30px;-webkit-text-stroke:0px #000;transform-origin:100% 50%;transform:scaleX(1.000)"><span style="display:inline-block;position:relative">Total<span style="position:absolute;left:0.08em;right:0.30px;top:10.80px;height:1px;background:#000"></span></span></div>
<div class="box" style="left:584px;top:305px;width:200px;height:40px"></div>
<svg class="abs" style="left:584px;top:312px" width="200" height="10"><defs><linearGradient id="g6" gradientUnits="userSpaceOnUse" x1="0.00" y1="10.00" x2="24.34" y2="-60.57"><stop offset="0.0000" stop-color="rgb(8,8,255)"/><stop offset="0.0721" stop-color="rgb(10,10,255)"/><stop offset="0.0721" stop-color="rgb(17,17,255)"/><stop offset="0.0778" stop-color="rgb(17,17,255)"/><stop offset="0.0778" stop-color="rgb(26,26,255)"/><stop offset="0.1441" stop-color="rgb(29,29,255)"/><stop offset="0.1441" stop-color="rgb(29,29,255)"/><stop offset="0.1498" stop-color="rgb(29,29,255)"/><stop offset="0.1498" stop-color="rgb(44,44,255)"/><stop offset="0.2162" stop-color="rgb(47,47,255)"/><stop offset="0.2162" stop-color="rgb(45,45,255)"/><stop offset="0.2219" stop-color="rgb(45,45,255)"/><stop offset="0.2219" stop-color="rgb(62,62,255)"/><stop offset="0.2882" stop-color="rgb(65,65,255)"/><stop offset="0.2882" stop-color="rgb(63,63,255)"/><stop offset="0.2939" stop-color="rgb(63,63,255)"/><stop offset="0.2939" stop-color="rgb(80,80,255)"/><stop offset="0.3603" stop-color="rgb(83,83,255)"/><stop offset="0.3603" stop-color="rgb(81,81,255)"/><stop offset="0.3660" stop-color="rgb(81,81,255)"/><stop offset="0.3660" stop-color="rgb(98,98,255)"/><stop offset="0.4323" stop-color="rgb(101,101,255)"/><stop offset="0.4323" stop-color="rgb(99,99,255)"/><stop offset="0.4380" stop-color="rgb(99,99,255)"/><stop offset="0.4380" stop-color="rgb(116,116,255)"/><stop offset="0.5044" stop-color="rgb(119,119,255)"/><stop offset="0.5044" stop-color="rgb(117,117,255)"/><stop offset="0.5101" stop-color="rgb(117,117,255)"/><stop offset="0.5101" stop-color="rgb(134,134,255)"/><stop offset="0.5764" stop-color="rgb(137,137,255)"/><stop offset="0.5764" stop-color="rgb(135,135,255)"/><stop offset="0.5821" stop-color="rgb(135,135,255)"/><stop offset="0.5821" stop-color="rgb(152,152,255)"/><stop offset="0.6485" stop-color="rgb(155,155,255)"/><stop offset="0.6485" stop-color="rgb(153,153,255)"/><stop offset="0.6542" stop-color="rgb(153,153,255)"/><stop offset="0.6542" stop-color="rgb(170,170,255)"/><stop offset="0.7205" stop-color="rgb(173,173,255)"/><stop offset="0.7205" stop-color="rgb(172,172,255)"/><stop offset="0.7262" stop-color="rgb(172,172,255)"/><stop offset="0.7262" stop-color="rgb(189,189,255)"/><stop offset="0.7926" stop-color="rgb(191,191,255)"/><stop offset="0.7926" stop-color="rgb(190,190,255)"/><stop offset="0.7983" stop-color="rgb(190,190,255)"/><stop offset="0.7983" stop-color="rgb(207,207,255)"/><stop offset="0.8646" stop-color="rgb(210,210,255)"/><stop offset="0.8646" stop-color="rgb(208,208,255)"/><stop offset="0.8703" stop-color="rgb(208,208,255)"/><stop offset="0.8703" stop-color="rgb(225,225,255)"/><stop offset="0.9367" stop-color="rgb(228,228,255)"/><stop offset="0.9367" stop-color="rgb(240,240,240)"/><stop offset="0.9525" stop-color="rgb(240,240,240)"/><stop offset="0.9525" stop-color="rgb(205,244,228)"/><stop offset="0.9560" stop-color="rgb(205,244,228)"/><stop offset="0.9560" stop-color="rgb(240,240,240)"/><stop offset="0.9715" stop-color="rgb(240,240,240)"/><stop offset="0.9715" stop-color="rgb(205,244,228)"/><stop offset="0.9750" stop-color="rgb(205,244,228)"/><stop offset="0.9750" stop-color="rgb(240,240,240)"/><stop offset="1.0000" stop-color="rgb(240,240,240)"/></linearGradient></defs><rect width="200" height="10" fill="url(#g6)"/><polygon shape-rendering="crispEdges" points="27.4,0 29.9,0 58.9,10 56.4,10" fill="rgb(0,0,255)" fill-opacity="0.80"/><polygon shape-rendering="crispEdges" points="89.4,0 91.9,0 120.9,10 118.4,10" fill="rgb(23,23,255)" fill-opacity="0.80"/><polygon shape-rendering="crispEdges" points="151.4,0 153.9,0 182.9,10 180.4,10" fill="rgb(91,91,255)" fill-opacity="0.80"/></svg>
<svg class="abs" style="left:584px;top:327px" width="150" height="10"><defs><linearGradient id="g7" gradientUnits="userSpaceOnUse" x1="0.00" y1="10.00" x2="29.97" y2="-55.19"><stop offset="0.0000" stop-color="rgb(255,10,10)"/><stop offset="0.0721" stop-color="rgb(255,10,10)"/><stop offset="0.0721" stop-color="rgb(255,10,10)"/><stop offset="0.0779" stop-color="rgb(255,10,10)"/><stop offset="0.0779" stop-color="rgb(255,10,10)"/><stop offset="0.1441" stop-color="rgb(255,13,13)"/><stop offset="0.1441" stop-color="rgb(255,19,19)"/><stop offset="0.1499" stop-color="rgb(255,19,19)"/><stop offset="0.1499" stop-color="rgb(255,29,29)"/><stop offset="0.2162" stop-color="rgb(255,32,32)"/><stop offset="0.2162" stop-color="rgb(255,27,27)"/><stop offset="0.2220" stop-color="rgb(255,27,27)"/><stop offset="0.2220" stop-color="rgb(255,47,47)"/><stop offset="0.2882" stop-color="rgb(255,50,50)"/><stop offset="0.2882" stop-color="rgb(255,40,40)"/><stop offset="0.2940" stop-color="rgb(255,40,40)"/><stop offset="0.2940" stop-color="rgb(255,66,66)"/><stop offset="0.3603" stop-color="rgb(255,69,69)"/><stop offset="0.3603" stop-color="rgb(255,59,59)"/><stop offset="0.3661" stop-color="rgb(255,59,59)"/><stop offset="0.3661" stop-color="rgb(255,85,85)"/><stop offset="0.4323" stop-color="rgb(255,88,88)"/><stop offset="0.4323" stop-color="rgb(255,77,77)"/><stop offset="0.4381" stop-color="rgb(255,77,77)"/><stop offset="0.4381" stop-color="rgb(255,103,103)"/><stop offset="0.5044" stop-color="rgb(255,106,106)"/><stop offset="0.5044" stop-color="rgb(255,96,96)"/><stop offset="0.5102" stop-color="rgb(255,96,96)"/><stop offset="0.5102" stop-color="rgb(255,122,122)"/><stop offset="0.5764" stop-color="rgb(255,125,125)"/><stop offset="0.5764" stop-color="rgb(255,114,114)"/><stop offset="0.5822" stop-color="rgb(255,114,114)"/><stop offset="0.5822" stop-color="rgb(255,140,140)"/><stop offset="0.6485" stop-color="rgb(255,143,143)"/><stop offset="0.6485" stop-color="rgb(255,133,133)"/><stop offset="0.6543" stop-color="rgb(255,133,133)"/><stop offset="0.6543" stop-color="rgb(255,159,159)"/><stop offset="0.7205" stop-color="rgb(255,162,162)"/><stop offset="0.7205" stop-color="rgb(255,152,152)"/><stop offset="0.7263" stop-color="rgb(255,152,152)"/><stop offset="0.7263" stop-color="rgb(255,178,178)"/><stop offset="0.7926" stop-color="rgb(255,181,181)"/><stop offset="0.7926" stop-color="rgb(255,170,170)"/><stop offset="0.7984" stop-color="rgb(255,170,170)"/><stop offset="0.7984" stop-color="rgb(255,196,196)"/><stop offset="0.8646" stop-color="rgb(255,199,199)"/><stop offset="0.8646" stop-color="rgb(255,189,189)"/><stop offset="0.8705" stop-color="rgb(255,189,189)"/><stop offset="0.8705" stop-color="rgb(255,215,215)"/><stop offset="0.9367" stop-color="rgb(255,218,218)"/><stop offset="0.9367" stop-color="rgb(240,240,240)"/><stop offset="0.9525" stop-color="rgb(240,240,240)"/><stop offset="0.9525" stop-color="rgb(255,213,213)"/><stop offset="0.9572" stop-color="rgb(255,213,213)"/><stop offset="0.9572" stop-color="rgb(240,240,240)"/><stop offset="0.9715" stop-color="rgb(240,240,240)"/><stop offset="0.9715" stop-color="rgb(255,213,213)"/><stop offset="0.9762" stop-color="rgb(255,213,213)"/><stop offset="0.9762" stop-color="rgb(240,240,240)"/><stop offset="1.0000" stop-color="rgb(240,240,240)"/></linearGradient></defs><rect width="150" height="10" fill="url(#g7)"/><polygon shape-rendering="crispEdges" points="20.6,0 22.4,0 44.1,10 42.3,10" fill="rgb(255,10,10)" fill-opacity="0.80"/><polygon shape-rendering="crispEdges" points="67.0,0 68.9,0 90.6,10 88.8,10" fill="rgb(255,14,14)" fill-opacity="0.80"/><polygon shape-rendering="crispEdges" points="113.5,0 115.4,0 137.1,10 135.3,10" fill="rgb(255,84,84)" fill-opacity="0.80"/></svg>
<div class="num" style="right:16.5px;top:318.69px;font-size:11.0px;line-height:11.0px;letter-spacing:0.00px;transform:scaleX(1.150)">2106</div>
<div class="num" style="right:16.5px;top:331.69px;font-size:11.0px;line-height:11.0px;letter-spacing:0.00px;transform:scaleX(1.150)">1500</div>
<div class="lbl" style="right:219.2px;top:319.30px;font-size:11.7px;line-height:11.7px;letter-spacing:0.30px;-webkit-text-stroke:0px #000;transform-origin:100% 50%;transform:scaleX(1.000)"><span style="display:inline-block;position:relative">Max<span style="position:absolute;left:0.08em;right:0.30px;top:10.80px;height:1px;background:#000"></span></span></div>
<div class="box" style="left:584px;top:350px;width:200px;height:25px"></div>
<svg class="abs" style="left:584px;top:357px" width="142" height="12"><defs><linearGradient id="g8" gradientUnits="userSpaceOnUse" x1="0.00" y1="12.00" x2="41.22" y2="-58.73"><stop offset="0.0000" stop-color="rgb(8,8,255)"/><stop offset="0.0721" stop-color="rgb(10,10,255)"/><stop offset="0.0721" stop-color="rgb(17,17,255)"/><stop offset="0.0782" stop-color="rgb(17,17,255)"/><stop offset="0.0782" stop-color="rgb(26,26,255)"/><stop offset="0.1441" stop-color="rgb(29,29,255)"/><stop offset="0.1441" stop-color="rgb(29,29,255)"/><stop offset="0.1503" stop-color="rgb(29,29,255)"/><stop offset="0.1503" stop-color="rgb(44,44,255)"/><stop offset="0.2162" stop-color="rgb(47,47,255)"/><stop offset="0.2162" stop-color="rgb(45,45,255)"/><stop offset="0.2223" stop-color="rgb(45,45,255)"/><stop offset="0.2223" stop-color="rgb(62,62,255)"/><stop offset="0.2882" stop-color="rgb(65,65,255)"/><stop offset="0.2882" stop-color="rgb(63,63,255)"/><stop offset="0.2944" stop-color="rgb(63,63,255)"/><stop offset="0.2944" stop-color="rgb(80,80,255)"/><stop offset="0.3603" stop-color="rgb(83,83,255)"/><stop offset="0.3603" stop-color="rgb(81,81,255)"/><stop offset="0.3664" stop-color="rgb(81,81,255)"/><stop offset="0.3664" stop-color="rgb(98,98,255)"/><stop offset="0.4323" stop-color="rgb(101,101,255)"/><stop offset="0.4323" stop-color="rgb(99,99,255)"/><stop offset="0.4385" stop-color="rgb(99,99,255)"/><stop offset="0.4385" stop-color="rgb(116,116,255)"/><stop offset="0.5044" stop-color="rgb(119,119,255)"/><stop offset="0.5044" stop-color="rgb(117,117,255)"/><stop offset="0.5105" stop-color="rgb(117,117,255)"/><stop offset="0.5105" stop-color="rgb(134,134,255)"/><stop offset="0.5764" stop-color="rgb(137,137,255)"/><stop offset="0.5764" stop-color="rgb(135,135,255)"/><stop offset="0.5826" stop-color="rgb(135,135,255)"/><stop offset="0.5826" stop-color="rgb(152,152,255)"/><stop offset="0.6485" stop-color="rgb(155,155,255)"/><stop offset="0.6485" stop-color="rgb(153,153,255)"/><stop offset="0.6546" stop-color="rgb(153,153,255)"/><stop offset="0.6546" stop-color="rgb(170,170,255)"/><stop offset="0.7205" stop-color="rgb(173,173,255)"/><stop offset="0.7205" stop-color="rgb(172,172,255)"/><stop offset="0.7267" stop-color="rgb(172,172,255)"/><stop offset="0.7267" stop-color="rgb(189,189,255)"/><stop offset="0.7926" stop-color="rgb(191,191,255)"/><stop offset="0.7926" stop-color="rgb(190,190,255)"/><stop offset="0.7987" stop-color="rgb(190,190,255)"/><stop offset="0.7987" stop-color="rgb(207,207,255)"/><stop offset="0.8646" stop-color="rgb(210,210,255)"/><stop offset="0.8646" stop-color="rgb(208,208,255)"/><stop offset="0.8708" stop-color="rgb(208,208,255)"/><stop offset="0.8708" stop-color="rgb(225,225,255)"/><stop offset="0.9367" stop-color="rgb(228,228,255)"/><stop offset="0.9367" stop-color="rgb(240,240,240)"/><stop offset="0.9525" stop-color="rgb(240,240,240)"/><stop offset="0.9525" stop-color="rgb(205,244,228)"/><stop offset="0.9574" stop-color="rgb(205,244,228)"/><stop offset="0.9574" stop-color="rgb(240,240,240)"/><stop offset="0.9715" stop-color="rgb(240,240,240)"/><stop offset="0.9715" stop-color="rgb(205,244,228)"/><stop offset="0.9764" stop-color="rgb(205,244,228)"/><stop offset="0.9764" stop-color="rgb(240,240,240)"/><stop offset="1.0000" stop-color="rgb(240,240,240)"/></linearGradient></defs><rect width="142" height="12" fill="url(#g8)"/><polygon shape-rendering="crispEdges" points="19.5,0 20.9,0 41.5,12 40.0,12" fill="rgb(0,0,255)" fill-opacity="0.80"/><polygon shape-rendering="crispEdges" points="63.5,0 64.9,0 85.5,12 84.1,12" fill="rgb(23,23,255)" fill-opacity="0.80"/><polygon shape-rendering="crispEdges" points="107.5,0 109.0,0 129.5,12 128.1,12" fill="rgb(91,91,255)" fill-opacity="0.80"/></svg>
<div class="num" style="right:16.5px;top:362.69px;font-size:11.0px;line-height:11.0px;letter-spacing:0.00px;transform:scaleX(1.150)">1424</div>
<div class="lbl" style="right:219.2px;top:356.30px;font-size:11.7px;line-height:11.7px;letter-spacing:0.30px;-webkit-text-stroke:0px #000;transform-origin:100% 50%;transform:scaleX(1.000)"><span style="display:inline-block;position:relative">Variance<span style="position:absolute;left:0.08em;right:0.30px;top:10.80px;height:1px;background:#000"></span></span></div>
<div class="box" style="left:584px;top:380px;width:200px;height:25px"></div>
<svg class="abs" style="left:584px;top:387px" width="181" height="12"><defs><linearGradient id="g9" gradientUnits="userSpaceOnUse" x1="0.00" y1="12.00" x2="35.83" y2="-66.37"><stop offset="0.0000" stop-color="rgb(255,10,10)"/><stop offset="0.0721" stop-color="rgb(255,10,10)"/><stop offset="0.0721" stop-color="rgb(255,10,10)"/><stop offset="0.0769" stop-color="rgb(255,10,10)"/><stop offset="0.0769" stop-color="rgb(255,10,10)"/><stop offset="0.1441" stop-color="rgb(255,13,13)"/><stop offset="0.1441" stop-color="rgb(255,19,19)"/><stop offset="0.1489" stop-color="rgb(255,19,19)"/><stop offset="0.1489" stop-color="rgb(255,29,29)"/><stop offset="0.2162" stop-color="rgb(255,32,32)"/><stop offset="0.2162" stop-color="rgb(255,27,27)"/><stop offset="0.2210" stop-color="rgb(255,27,27)"/><stop offset="0.2210" stop-color="rgb(255,47,47)"/><stop offset="0.2882" stop-color="rgb(255,50,50)"/><stop offset="0.2882" stop-color="rgb(255,40,40)"/><stop offset="0.2930" stop-color="rgb(255,40,40)"/><stop offset="0.2930" stop-color="rgb(255,66,66)"/><stop offset="0.3603" stop-color="rgb(255,69,69)"/><stop offset="0.3603" stop-color="rgb(255,59,59)"/><stop offset="0.3651" stop-color="rgb(255,59,59)"/><stop offset="0.3651" stop-color="rgb(255,85,85)"/><stop offset="0.4323" stop-color="rgb(255,88,88)"/><stop offset="0.4323" stop-color="rgb(255,77,77)"/><stop offset="0.4371" stop-color="rgb(255,77,77)"/><stop offset="0.4371" stop-color="rgb(255,103,103)"/><stop offset="0.5044" stop-color="rgb(255,106,106)"/><stop offset="0.5044" stop-color="rgb(255,96,96)"/><stop offset="0.5092" stop-color="rgb(255,96,96)"/><stop offset="0.5092" stop-color="rgb(255,122,122)"/><stop offset="0.5764" stop-color="rgb(255,125,125)"/><stop offset="0.5764" stop-color="rgb(255,114,114)"/><stop offset="0.5812" stop-color="rgb(255,114,114)"/><stop offset="0.5812" stop-color="rgb(255,140,140)"/><stop offset="0.6485" stop-color="rgb(255,143,143)"/><stop offset="0.6485" stop-color="rgb(255,133,133)"/><stop offset="0.6533" stop-color="rgb(255,133,133)"/><stop offset="0.6533" stop-color="rgb(255,159,159)"/><stop offset="0.7205" stop-color="rgb(255,162,162)"/><stop offset="0.7205" stop-color="rgb(255,152,152)"/><stop offset="0.7253" stop-color="rgb(255,152,152)"/><stop offset="0.7253" stop-color="rgb(255,178,178)"/><stop offset="0.7926" stop-color="rgb(255,181,181)"/><stop offset="0.7926" stop-color="rgb(255,170,170)"/><stop offset="0.7974" stop-color="rgb(255,170,170)"/><stop offset="0.7974" stop-color="rgb(255,196,196)"/><stop offset="0.8646" stop-color="rgb(255,199,199)"/><stop offset="0.8646" stop-color="rgb(255,189,189)"/><stop offset="0.8695" stop-color="rgb(255,189,189)"/><stop offset="0.8695" stop-color="rgb(255,215,215)"/><stop offset="0.9367" stop-color="rgb(255,218,218)"/><stop offset="0.9367" stop-color="rgb(240,240,240)"/><stop offset="0.9525" stop-color="rgb(240,240,240)"/><stop offset="0.9525" stop-color="rgb(255,213,213)"/><stop offset="0.9564" stop-color="rgb(255,213,213)"/><stop offset="0.9564" stop-color="rgb(240,240,240)"/><stop offset="0.9715" stop-color="rgb(240,240,240)"/><stop offset="0.9715" stop-color="rgb(255,213,213)"/><stop offset="0.9754" stop-color="rgb(255,213,213)"/><stop offset="0.9754" stop-color="rgb(240,240,240)"/><stop offset="1.0000" stop-color="rgb(240,240,240)"/></linearGradient></defs><rect width="181" height="12" fill="url(#g9)"/><polygon shape-rendering="crispEdges" points="24.8,0 26.7,0 52.9,12 51.0,12" fill="rgb(255,10,10)" fill-opacity="0.80"/><polygon shape-rendering="crispEdges" points="80.9,0 82.8,0 109.0,12 107.2,12" fill="rgb(255,14,14)" fill-opacity="0.80"/><polygon shape-rendering="crispEdges" points="137.0,0 138.9,0 165.1,12 163.3,12" fill="rgb(255,84,84)" fill-opacity="0.80"/></svg>
<div class="num" style="right:16.5px;top:392.69px;font-size:11.0px;line-height:11.0px;letter-spacing:0.00px;transform:scaleX(1.150)">1820</div>
<div class="lbl" style="right:219.2px;top:386.30px;font-size:11.7px;line-height:11.7px;letter-spacing:0.30px;-webkit-text-stroke:0px #000;transform-origin:100% 50%;transform:scaleX(1.000)"><span style="display:inline-block;position:relative">Burst<span style="position:absolute;left:0.08em;right:0.30px;top:10.80px;height:1px;background:#000"></span></span></div>
</div>
</body></html>
